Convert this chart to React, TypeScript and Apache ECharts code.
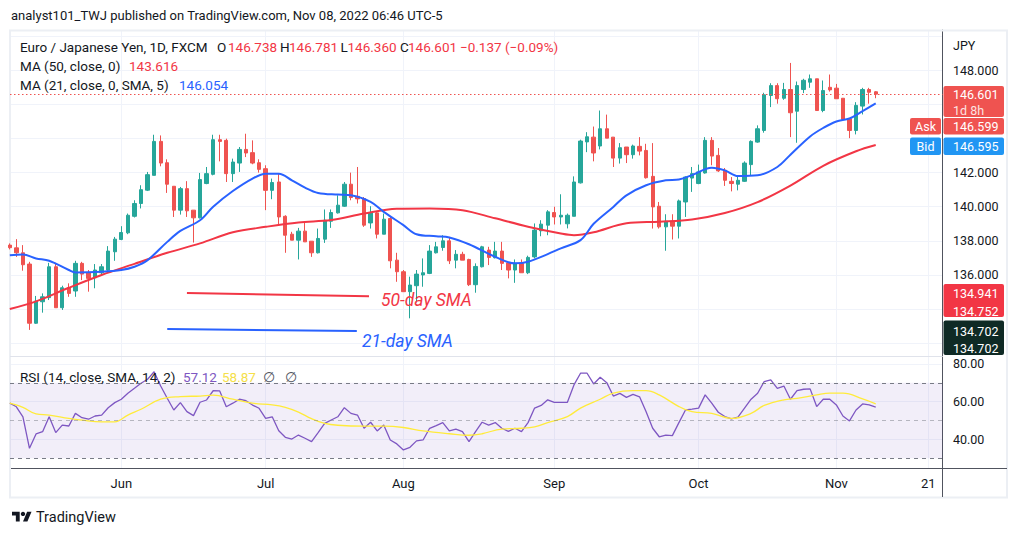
import React, { useEffect, useRef } from "react";
import * as echarts from "echarts";

// ---------- DATA ----------
const opens = [137.75,137.59,137.30,136.64,133.17,134.43,134.67,136.48,134.08,135.25,135.06,136.68,136.15,135.84,136.13,136.29,137.36,138.08,138.47,139.44,140.19,140.97,141.84,143.83,142.58,141.20,139.80,141.06,139.80,139.35,141.36,141.90,143.93,143.89,141.94,142.56,143.36,143.17,142.58,142.23,140.96,141.45,139.44,138.39,138.04,138.57,137.98,137.30,138.10,139.15,139.64,140.03,141.32,140.61,140.48,139.05,139.64,138.39,139.31,136.87,136.19,135.02,135.37,136.00,136.09,137.30,137.61,138.00,136.87,137.21,136.91,135.43,136.48,137.46,137.01,137.40,136.71,136.29,136.68,136.13,137.06,138.59,138.92,139.66,139.40,139.00,139.44,141.40,143.80,144.08,143.56,144.57,144.08,142.85,143.50,143.05,143.54,143.30,141.78,140.03,138.82,139.15,138.86,140.28,141.68,141.36,141.98,143.89,143.01,142.14,141.49,141.32,141.49,142.47,143.79,144.47,146.52,147.10,146.36,146.87,145.60,146.87,147.30,147.50,145.64,147.00,146.95,146.36,145.16,144.47,145.90,146.87,146.738];
const closes = [137.60,137.30,136.60,133.17,134.47,134.72,136.48,134.08,135.25,134.92,136.68,136.05,135.80,136.29,136.48,137.40,138.10,138.49,139.50,140.19,141.00,141.88,143.83,142.56,141.32,139.80,141.06,139.76,139.35,141.59,141.94,143.93,143.83,141.94,142.62,143.36,143.15,142.56,142.19,140.96,141.42,139.40,138.33,138.04,138.57,137.94,137.30,138.14,139.21,139.66,140.09,141.32,140.54,140.46,138.92,139.64,138.39,139.27,136.83,136.19,135.02,135.41,136.05,136.13,137.40,137.65,138.00,136.83,137.21,136.87,135.43,136.50,137.65,137.03,137.40,136.68,136.29,136.68,136.13,137.03,138.63,138.98,139.70,139.40,139.50,139.50,141.45,143.85,144.10,143.15,144.57,144.02,142.85,143.46,143.05,143.56,143.26,141.70,139.99,138.82,139.15,138.86,140.34,141.74,141.94,142.04,143.89,142.97,142.10,141.55,141.36,141.55,142.56,143.83,144.57,146.56,147.10,146.33,146.87,145.51,147.10,147.41,147.50,145.64,146.81,146.85,146.33,145.12,144.47,145.94,146.87,146.71,146.601];
const lows = [137.50,137.06,136.25,132.78,133.13,133.79,134.53,134.08,133.95,134.72,134.72,135.70,135.02,135.22,135.94,136.25,136.83,138.04,138.39,139.37,139.90,140.92,141.84,142.37,140.81,139.40,139.54,139.40,137.90,139.31,141.32,141.84,142.66,141.45,141.45,142.04,142.91,142.49,142.00,139.80,140.44,138.98,137.30,138.04,136.91,137.94,137.06,137.26,137.88,138.76,139.60,139.99,140.38,140.19,138.82,138.72,138.14,138.39,136.39,135.60,135.02,133.46,134.37,135.31,136.05,137.26,137.42,136.64,136.39,136.87,135.35,134.96,136.44,136.58,136.97,136.29,135.80,135.54,136.13,136.05,136.97,138.27,138.33,138.96,138.96,138.73,139.44,141.36,143.20,142.66,143.36,144.02,142.33,142.53,142.56,142.82,143.01,141.65,138.72,138.72,137.42,138.08,138.14,139.40,140.87,141.32,141.94,142.43,142.04,141.22,140.90,140.96,141.45,141.84,143.75,144.34,145.84,146.04,146.27,144.08,143.75,146.66,146.97,145.64,145.54,146.75,146.33,145.06,144.02,144.24,145.41,146.04,146.360];
const highs = [137.85,138.10,137.75,136.77,134.77,134.92,136.71,136.71,135.37,135.51,136.83,136.77,136.29,136.64,136.64,137.69,138.23,138.86,139.60,140.38,141.26,142.04,144.22,144.18,142.78,141.20,141.16,141.50,139.80,141.98,142.33,144.22,144.22,143.99,142.82,143.50,144.28,143.89,142.78,142.43,141.65,141.94,139.50,138.53,138.76,139.11,137.98,138.72,139.84,139.84,140.67,141.45,142.00,142.33,140.57,140.03,139.70,139.60,139.40,137.30,136.29,135.90,136.29,136.97,137.75,137.94,138.33,138.23,137.46,137.36,136.95,136.68,137.71,137.65,137.94,137.94,136.77,136.91,136.91,137.13,139.02,139.21,139.80,140.00,140.73,139.60,141.78,143.93,144.37,144.70,145.64,145.40,144.08,143.73,143.50,143.64,144.08,143.69,143.73,140.28,139.56,139.56,140.42,141.78,142.33,142.47,144.08,144.08,143.44,142.27,141.74,141.84,142.66,143.89,144.77,146.68,147.24,147.24,147.26,148.43,147.34,147.50,147.75,147.50,147.40,147.75,147.20,146.36,145.19,146.13,146.97,146.97,146.781];

// [bar index, value]
const ma50Points = [[0,134.0],[4,134.45],[9,135.25],[14,136.0],[19,136.65],[24,137.3],[29,137.85],[34,138.5],[39,138.82],[44,139.08],[49,139.22],[54,139.6],[59,139.88],[64,139.9],[69,139.8],[74,139.32],[79,138.83],[84,138.43],[86,138.33],[89,138.5],[94,139.03],[99,139.12],[104,139.25],[109,139.63],[114,140.27],[119,141.24],[124,142.4],[129,143.25],[132,143.616]];
const ma21Points = [[0,137.16],[2,137.2],[4,136.97],[6,136.83],[9,136.29],[10,136.15],[14,136.19],[17,136.29],[19,136.48],[21,136.87],[24,137.94],[26,138.58],[29,139.21],[31,140.0],[34,140.92],[37,141.65],[39,141.94],[41,141.94],[43,141.55],[45,141.12],[47,140.81],[50,140.71],[52,140.67],[55,140.28],[57,139.7],[60,138.92],[62,138.39],[65,138.27],[67,138.2],[70,137.8],[74,137.06],[77,136.68],[79,136.77],[82,137.22],[84,137.56],[87,138.04],[89,139.0],[92,139.99],[94,140.67],[97,141.26],[100,141.55],[102,141.6],[104,141.85],[107,142.28],[109,142.13],[111,141.8],[114,141.84],[117,142.33],[119,143.05],[122,144.12],[124,144.62],[126,145.0],[128,145.17],[130,145.6],[132,146.054]];
const rsiValues = [59.2,57.3,52.0,35.3,42.9,44.1,52.0,43.6,47.6,47.1,53.8,51.5,50.7,52.4,52.9,56.8,59.5,61.3,64.5,67.1,69.8,71.9,75.9,68.3,61.8,55.6,59.5,54.7,52.6,59.7,60.9,65.8,65.7,57.3,59.2,61.3,60.5,58.2,56.5,51.2,52.0,44.6,41.1,40.2,42.3,40.6,38.8,43.6,48.5,50.3,52.0,56.8,53.8,52.9,45.9,49.1,44.5,47.6,39.7,37.6,34.4,35.8,39.2,39.7,45.9,47.3,48.9,44.5,45.5,44.1,38.8,44.1,49.1,47.6,48.9,45.9,44.3,45.9,44.1,48.9,56.6,58.0,61.0,59.6,59.6,59.7,68.9,75.1,75.1,69.4,73.0,70.1,63.0,64.4,62.3,63.9,62.6,54.7,45.9,41.4,42.3,42.0,48.9,55.6,56.0,56.6,63.6,59.2,54.4,52.1,50.9,51.8,56.6,61.3,64.5,70.7,71.6,67.1,68.3,61.3,65.9,66.6,66.8,57.4,61.3,61.3,58.3,52.4,49.8,55.6,58.8,58.3,57.12];
const rsiMaPoints = [[0,59.2],[2,57.0],[4,53.5],[6,52.9],[9,51.1],[11,50.2],[14,49.3],[16,49.3],[18,52.9],[20,56.0],[23,61.3],[26,62.7],[29,63.0],[31,63.5],[34,61.3],[37,59.2],[40,58.3],[42,57.0],[44,54.5],[46,51.0],[48,48.5],[50,47.5],[54,47.0],[57,47.0],[60,46.3],[63,44.5],[67,43.0],[70,42.2],[72,43.0],[75,45.5],[78,45.9],[80,46.7],[82,48.9],[85,52.1],[87,56.6],[90,61.3],[92,64.6],[95,65.9],[97,65.9],[99,63.6],[102,57.4],[104,54.7],[107,53.8],[110,51.1],[113,53.8],[115,58.0],[118,61.0],[120,61.8],[123,63.6],[125,64.5],[127,64.5],[130,61.5],[132,58.87]];
// analyst's drawn lines: [bar index, price]
const redDrawn = [[27.0,134.941],[54.76,134.752]];
const blueDrawn = [[24.0,132.83],[52.9,132.71]];

const monthTicks = [17,39,60,83,105,126,140];
const monthLabels = ["Jun","Jul","Aug","Sep","Oct","Nov","21"];
const priceTicks = [132,134,136,138,140,142,144,146,148,150];
const priceLabels = [136,138,140,142,148];
const rsiTicks = [40,60,80];
const rsiLevels = [70,50,30];

const X_MIN = 0.03, X_MAX = 142.18;
const P_MIN = 131.25, P_MAX = 150.36;
const R_MIN = 24.83, R_MAX = 83.7;

const UP = "#26a69a", DOWN = "#ef5350";
const FONT = "Roboto";
const TXT = "#131722";

const logoD = "M14 22H7V11H0V4h14v18zM28 22h-8l7.5-18h8L28 22zM24 8C24 10.2 22.2 12 20 12C17.8 12 16 10.2 16 8C16 5.8 17.8 4 20 4C22.2 4 24 5.8 24 8Z";
echarts.graphic.registerShape("tvlogo", echarts.graphic.extendPath(logoD, {}));

function txt(x: number, y: number, text: string, fill: string, font: string, align: string = "left") {
  return { type: "text", x, y, z: 30, style: { text, fill, font, align, verticalAlign: "middle", textAlign: align, textVerticalAlign: "middle" } };
}
function box(x: number, y: number, w: number, h: number, fill: string, r: number = 2) {
  return { type: "rect", z: 25, shape: { x, y, width: w, height: h, r }, style: { fill } };
}

export default function App() {
  const ref = useRef<HTMLDivElement>(null);
  useEffect(() => {
    document.body.style.margin = "0";
    const chart = echarts.init(ref.current!, undefined, { renderer: "svg" });
    const f13 = `13.5px ${FONT}`;
    const fAx = `12.5px ${FONT}`;
    const last = closes.length - 1;
    const option: any = {
      animation: false,
      backgroundColor: "#ffffff",
      grid: [
        { left: 10, right: 75.5, top: 30, height: 326 },
        { left: 10, right: 75.5, top: 357, height: 111 },
      ],
      xAxis: [
        {
          type: "value", gridIndex: 0, min: X_MIN, max: X_MAX,
          axisLine: { show: false }, axisTick: { show: false, customValues: monthTicks },
          axisLabel: { show: false }, splitLine: { show: true, lineStyle: { color: "#f0f3fa", width: 1 } },
        },
        {
          type: "value", gridIndex: 1, min: X_MIN, max: X_MAX,
          axisLine: { show: true, lineStyle: { color: "#50535e", width: 1 } },
          axisTick: { show: false, customValues: monthTicks },
          axisLabel: {
            show: true, customValues: monthTicks, margin: 9, color: TXT, fontSize: 13, fontFamily: FONT,
            formatter: (v: number) => { const k = monthTicks.indexOf(Math.round(v)); return k >= 0 ? monthLabels[k] : ""; },
          },
          splitLine: { show: true, lineStyle: { color: "#f0f3fa", width: 1 } },
        },
      ],
      yAxis: [
        {
          type: "value", gridIndex: 0, position: "right", min: P_MIN, max: P_MAX,
          axisLine: { show: true, lineStyle: { color: "#50535e", width: 1 } },
          axisTick: { show: false, customValues: priceTicks },
          axisLabel: { customValues: priceLabels, margin: 10.5, color: TXT, fontSize: 12.5, fontFamily: FONT, formatter: (v: number) => v.toFixed(3) },
          splitLine: { show: true, lineStyle: { color: "#f0f3fa", width: 1 } },
        },
        {
          type: "value", gridIndex: 1, position: "right", min: R_MIN, max: R_MAX,
          axisLine: { show: true, lineStyle: { color: "#50535e", width: 1 } },
          axisTick: { show: false, customValues: rsiTicks },
          axisLabel: { customValues: rsiTicks, margin: 10.5, color: TXT, fontSize: 12.5, fontFamily: FONT, formatter: (v: number) => v.toFixed(2) },
          splitLine: { show: true, lineStyle: { color: "#f0f3fa", width: 1 } },
        },
      ],
      series: [
        {
          type: "candlestick", xAxisIndex: 0, yAxisIndex: 0, barWidth: 3.8, clip: true,
          data: opens.map((o, i) => [i, o, closes[i], lows[i], highs[i]]),
          itemStyle: { color: UP, color0: DOWN, borderColor: UP, borderColor0: DOWN, borderWidth: 1 },
          markLine: {
            silent: true, symbol: ["none", "none"], label: { show: false },
            lineStyle: { color: DOWN, type: [1.5, 2.5], width: 1 },
            data: [{ yAxis: closes[last] }],
          },
        },
        { type: "line", xAxisIndex: 0, yAxisIndex: 0, data: ma50Points, smooth: 0.35, showSymbol: false, lineStyle: { color: "#f23645", width: 2 }, z: 3 },
        { type: "line", xAxisIndex: 0, yAxisIndex: 0, data: ma21Points, smooth: 0.35, showSymbol: false, lineStyle: { color: "#2962ff", width: 2 }, z: 3 },
        { type: "line", xAxisIndex: 0, yAxisIndex: 0, data: redDrawn, showSymbol: false, lineStyle: { color: "#f23645", width: 2 }, z: 3 },
        { type: "line", xAxisIndex: 0, yAxisIndex: 0, data: blueDrawn, showSymbol: false, lineStyle: { color: "#2962ff", width: 2 }, z: 3 },
        {
          type: "line", xAxisIndex: 1, yAxisIndex: 1, data: rsiValues.map((v, i) => [i, v]), showSymbol: false,
          lineStyle: { color: "#7e57c2", width: 1.3 },
          markArea: { silent: true, itemStyle: { color: "rgba(126,87,194,0.1)" }, data: [[{ yAxis: rsiLevels[0] }, { yAxis: rsiLevels[2] }]] },
          markLine: {
            silent: true, symbol: ["none", "none"], label: { show: false },
            data: [
              { yAxis: rsiLevels[0], lineStyle: { color: "#787b86", type: [4, 4], width: 1 } },
              { yAxis: rsiLevels[1], lineStyle: { color: "rgba(120,123,134,0.5)", type: [4, 4], width: 1 } },
              { yAxis: rsiLevels[2], lineStyle: { color: "#787b86", type: [4, 4], width: 1 } },
            ],
          },
        },
        { type: "line", xAxisIndex: 1, yAxisIndex: 1, data: rsiMaPoints, smooth: 0.4, showSymbol: false, lineStyle: { color: "#ffeb3b", width: 1.3 } },
      ],
      graphic: [
        { type: "rect", z: 1, shape: { x: 10, y: 30.5, width: 997, height: 467 }, style: { fill: "none", stroke: "#eceff4", lineWidth: 2 } },
        { type: "line", z: 5, shape: { x1: 10, y1: 356.5, x2: 942.5, y2: 356.5 }, style: { stroke: "#e0e3eb", lineWidth: 1 } },
        { type: "line", z: 5, shape: { x1: 942.5, y1: 468, x2: 942.5, y2: 497 }, style: { stroke: "#50535e", lineWidth: 1 } },
        { type: "line", z: 5, shape: { x1: 942.5, y1: 468.5, x2: 1007, y2: 468.5 }, style: { stroke: "#50535e", lineWidth: 1 } },
        txt(11, 15, "analyst101_TWJ published on TradingView.com, Nov 08, 2022 06:46 UTC-5", TXT, `13px ${FONT}`),
        // legend
        txt(20, 46.5, "Euro / Japanese Yen, 1D, FXCM", TXT, f13),
        txt(217, 46.5, "O", TXT, f13), txt(228, 46.5, "146.738", "#f23645", f13),
        txt(280, 46.5, "H", TXT, f13), txt(289, 46.5, "146.781", "#f23645", f13),
        txt(340.5, 46.5, "L", TXT, f13), txt(347.5, 46.5, "146.360", "#f23645", f13),
        txt(400, 46.5, "C", TXT, f13), txt(408, 46.5, "146.601", "#f23645", f13),
        txt(460, 46.5, "\u22120.137 (\u22120.09%)", "#f23645", f13),
        txt(20, 65.5, "MA (50, close, 0)", TXT, f13), txt(129, 65.5, "143.616", "#f23645", f13),
        txt(20, 84.5, "MA (21, close, 0, SMA, 5)", TXT, f13), txt(179, 84.5, "146.054", "#2962ff", f13),
        txt(20, 377, "RSI (14, close, SMA, 14, 2)", TXT, f13),
        txt(183, 377, "57.12", "#7e57c2", f13), txt(222, 377, "58.87", "#f5e04a", f13),
        txt(263, 377, "\u2205", "#50535e", f13), txt(285, 377, "\u2205", "#50535e", f13),
        // drawn labels
        txt(381, 300, "50-day SMA", "#f23645", `italic 17.5px ${FONT}`),
        txt(362, 340.5, "21-day SMA", "#2962ff", `italic 17.5px ${FONT}`),
        // price scale
        txt(953, 45, "JPY", TXT, fAx),
        box(943.5, 86, 60.5, 31, "#ef5350"),
        box(943.5, 118, 60.5, 16.5, "#ef5350"),
        box(910, 118, 31, 16.5, "#ef5350"),
        box(910, 137.5, 31, 17.5, "#2196f3"),
        box(943.5, 137.5, 60.5, 17.5, "#2196f3"),
        box(943.5, 284, 60.5, 33, "#f23645"),
        box(943.5, 320.5, 60.5, 34.5, "#0f2a25"),
        txt(953, 94.5, "146.601", "#ffffff", fAx),
        txt(953, 110, "1d 8h", "rgba(255,255,255,0.85)", fAx),
        txt(953, 126.5, "146.599", "#ffffff", fAx),
        txt(925.5, 126.5, "Ask", "#ffffff", fAx, "center"),
        txt(925.5, 146.5, "Bid", "#ffffff", fAx, "center"),
        txt(953, 146.5, "146.595", "#ffffff", fAx),
        txt(953, 293.5, "134.941", "#ffffff", fAx),
        txt(953, 311, "134.752", "#ffffff", fAx),
        txt(953, 331.5, "134.702", "#ffffff", fAx),
        txt(953, 348.5, "134.702", "#ffffff", fAx),
        // logo
        { type: "tvlogo", z: 30, x: 12, y: 509.5, scaleX: 0.55, scaleY: 0.55, style: { fill: TXT } },
        txt(36, 517.5, "TradingView", TXT, `14.5px ${FONT}`),
      ],
    };
    chart.setOption(option);
    return () => chart.dispose();
  }, []);
  return <div ref={ref} style={{ width: 1018, height: 536 }} />;
}
